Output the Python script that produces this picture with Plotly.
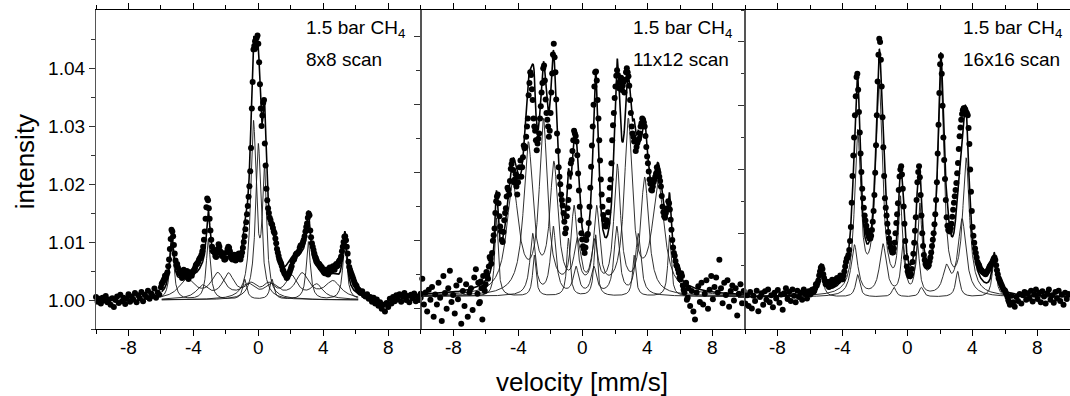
import numpy as np
import plotly.graph_objects as go

FONT = "Liberation Sans, Arial, sans-serif"
V_STEP = 0.1  # mm/s between plotted velocity channels

# ---------------- panel 1 : 8x8 scan ----------------
# channels of the first sweep (start p1_v_start, step V_STEP)
p1_v_start = -10.0
p1_int = [
    1.0005, 0.9997, 1.0002, 0.9994, 1.0004, 0.9999, 1.0007, 0.9996, 1.0001, 0.9992,
    1.0003, 0.9988, 1.0000, 1.0006, 0.9995, 1.0009, 0.9998, 1.0004, 0.9993, 1.0002,
    1.0010, 0.9997, 1.0006, 1.0001, 1.0012, 0.9996, 1.0008, 1.0003, 1.0014, 0.9998,
    1.0009, 1.0005, 1.0016, 1.0002, 1.0011, 1.0007, 1.0020, 1.0004, 1.0013, 1.0009,
    1.0022, 1.0030, 1.0036, 1.0040, 1.0048, 1.0070, 1.0105, 1.0118, 1.0095, 1.0068,
    1.0062, 1.0048, 1.0050, 1.0038, 1.0052, 1.0040, 1.0050, 1.0036, 1.0048, 1.0042,
    1.0050, 1.0055, 1.0062, 1.0066, 1.0072, 1.0078, 1.0092, 1.0118, 1.0160, 1.0172,
    1.0140, 1.0104, 1.0084, 1.0082, 1.0074, 1.0088, 1.0092, 1.0082, 1.0080, 1.0070,
    1.0072, 1.0088, 1.0090, 1.0076, 1.0070, 1.0078, 1.0068, 1.0074, 1.0080, 1.0070,
    1.0082, 1.0100, 1.0122, 1.0148, 1.0178, 1.0222, 1.0330, 1.0432, 1.0446, 1.0452,
    1.0442, 1.0372, 1.0300, 1.0340, 1.0270, 1.0192, 1.0158, 1.0142, 1.0132, 1.0124,
    1.0115, 1.0098, 1.0082, 1.0070, 1.0063, 1.0052, 1.0046, 1.0042, 1.0040, 1.0046,
    1.0054, 1.0066, 1.0070, 1.0078, 1.0080, 1.0084, 1.0094, 1.0096, 1.0104, 1.0118,
    1.0132, 1.0149, 1.0120, 1.0098, 1.0086, 1.0075, 1.0068, 1.0063, 1.0060, 1.0057,
    1.0052, 1.0046, 1.0050, 1.0044, 1.0056, 1.0050, 1.0058, 1.0052, 1.0062, 1.0060,
    1.0068, 1.0075, 1.0092, 1.0109, 1.0103, 1.0080, 1.0057, 1.0048, 1.0040, 1.0032,
    1.0026, 1.0020, 1.0017, 1.0012, 1.0015, 1.0008, 1.0006, 1.0010, 1.0002, 1.0005,
    0.9997, 1.0004, 0.9994, 1.0001, 0.9990, 0.9996, 0.9985, 0.9992, 0.9980, 0.9995,
    0.9988, 1.0002, 0.9994, 1.0005, 0.9998, 1.0008, 1.0001, 1.0010, 0.9997, 1.0006,
    1.0012, 1.0000, 1.0007, 0.9996, 1.0009, 1.0003, 1.0011, 0.9998, 1.0006, 1.0000,
    1.0004, 0.9995, 1.0007, 1.0002,
]
# channels of the second sweep, shifted by half a step
p1b_v_start = -5.95
p1b_int = [
    1.0028, 1.0033, 1.0042, 1.0044, 1.0058, 1.0088, 1.0121, 1.0110, 1.0080, 1.0060,
    1.0056, 1.0046, 1.0044, 1.0050, 1.0045, 1.0043, 1.0048, 1.0041, 1.0045, 1.0047,
    1.0052, 1.0060, 1.0063, 1.0070, 1.0074, 1.0084, 1.0104, 1.0140, 1.0175, 1.0158,
    1.0120, 1.0092, 1.0086, 1.0076, 1.0082, 1.0096, 1.0084, 1.0076, 1.0080, 1.0070,
    1.0082, 1.0092, 1.0084, 1.0072, 1.0076, 1.0070, 1.0078, 1.0072, 1.0078, 1.0076,
    1.0090, 1.0110, 1.0134, 1.0162, 1.0196, 1.0262, 1.0376, 1.0438, 1.0450, 1.0456,
    1.0410, 1.0330, 1.0318, 1.0345, 1.0232, 1.0172, 1.0150, 1.0138, 1.0130, 1.0118,
    1.0106, 1.0088, 1.0076, 1.0066, 1.0058, 1.0050, 1.0044, 1.0038, 1.0044, 1.0050,
    1.0058, 1.0070, 1.0074, 1.0080, 1.0082, 1.0090, 1.0094, 1.0100, 1.0110, 1.0126,
    1.0142, 1.0146, 1.0108, 1.0092, 1.0080, 1.0072, 1.0064, 1.0062, 1.0056, 1.0054,
    1.0048, 1.0052, 1.0046, 1.0054, 1.0050, 1.0056, 1.0054, 1.0060, 1.0058, 1.0066,
    1.0070, 1.0084, 1.0100, 1.0110, 1.0092, 1.0066, 1.0052, 1.0044, 1.0036, 1.0028,
    1.0024, 1.0018, 1.0014,
]
# fitted subspectra: line positions (mm/s), amplitudes, line widths FWHM (mm/s)
p1_fit_span = [-5.95, 6.15]
p1_sing_pos = [0.00]
p1_sing_amp = [0.027]
p1_sing_fwhm = [0.40]
p1_doub_pos = [-0.30, 0.38]
p1_doub_amp = [0.030, 0.021]
p1_doub_fwhm = [0.40, 0.30]
p1_fe_pos = [-5.33, -3.08, -0.84, 0.84, 3.08, 5.33]
p1_fe_amp = [0.0100, 0.0105, 0.0035, 0.0035, 0.0100, 0.0100]
p1_fe_fwhm = [0.30, 0.30, 0.30, 0.30, 0.30, 0.30]
p1_sa_pos = [-4.40, -2.50, -0.62, 0.82, 2.70, 4.60]
p1_sa_amp = [0.0034, 0.0042, 0.0022, 0.0022, 0.0042, 0.0030]
p1_sa_fwhm = [1.20, 1.00, 1.00, 1.00, 1.00, 1.20]
p1_sb_pos = [-3.45, -1.85, -0.45, 0.65, 2.05, 3.60]
p1_sb_amp = [0.0022, 0.0042, 0.0022, 0.0022, 0.0038, 0.0024]
p1_sb_fwhm = [0.90, 0.90, 0.90, 0.90, 0.90, 0.90]

# ---------------- panel 2 : 11x12 scan ----------------
p2_v_start = -11.2
p2_int = [
    1.0005, 0.9990, 1.0015, 1.0002, 1.0022, 0.9994, 1.0008, 0.9985, 1.0012, 1.0000,
    1.0018, 0.9992, 1.0004, 1.0026, 0.9988, 1.0006, 0.9978, 1.0010, 0.9995, 1.0014,
    0.9970, 1.0003, 0.9988, 1.0020, 0.9998, 0.9964, 1.0030, 1.0005, 0.9982, 1.0012,
    1.0038, 0.9992, 1.0002, 0.9975, 1.0016, 0.9996, 1.0024, 0.9960, 1.0008, 0.9986,
    1.0018, 0.9970, 1.0006, 1.0012, 0.9980, 1.0028, 1.0040, 1.0004, 0.9990, 1.0022,
    0.9966, 1.0014, 1.0018, 1.0030, 1.0044, 1.0055, 1.0064, 1.0090, 1.0123, 1.0147,
    1.0137, 1.0103, 1.0083, 1.0095, 1.0123, 1.0147, 1.0157, 1.0170, 1.0195, 1.0186,
    1.0172, 1.0162, 1.0168, 1.0190, 1.0176, 1.0205, 1.0218, 1.0235, 1.0262, 1.0314,
    1.0326, 1.0289, 1.0250, 1.0230, 1.0225, 1.0240, 1.0280, 1.0314, 1.0340, 1.0290,
    1.0260, 1.0235, 1.0270, 1.0328, 1.0372, 1.0330, 1.0240, 1.0190, 1.0165, 1.0142,
    1.0123, 1.0093, 1.0118, 1.0142, 1.0181, 1.0201, 1.0230, 1.0240, 1.0228, 1.0181,
    1.0132, 1.0093, 1.0074, 1.0064, 1.0083, 1.0092, 1.0132, 1.0191, 1.0250, 1.0309,
    1.0331, 1.0289, 1.0230, 1.0172, 1.0132, 1.0113, 1.0103, 1.0108, 1.0142, 1.0172,
    1.0230, 1.0270, 1.0309, 1.0333, 1.0314, 1.0318, 1.0304, 1.0316, 1.0319, 1.0336,
    1.0324, 1.0289, 1.0250, 1.0235, 1.0230, 1.0220, 1.0230, 1.0240, 1.0255, 1.0260,
    1.0250, 1.0220, 1.0196, 1.0172, 1.0157, 1.0162, 1.0172, 1.0181, 1.0186, 1.0176,
    1.0162, 1.0132, 1.0118, 1.0123, 1.0130, 1.0137, 1.0113, 1.0083, 1.0064, 1.0052,
    1.0044, 1.0035, 1.0025, 1.0030, 1.0010, 1.0018, 0.9995, 1.0012, 0.9986, 1.0008,
    0.9978, 0.9966, 1.0006, 1.0015, 0.9992, 1.0020, 0.9988, 1.0004, 1.0024, 0.9982,
    1.0010, 1.0030, 0.9996, 1.0014, 1.0028, 1.0006, 1.0054, 1.0012, 0.9990, 1.0020,
    1.0002, 1.0024, 0.9985, 1.0008, 1.0016, 0.9994, 1.0012, 0.9972, 1.0004, 1.0018,
    0.9990, 1.0008, 0.9998, 1.0014, 0.9994, 1.0010, 1.0003,
]
p2b_v_start = -6.45
p2b_int = [
    1.0020, 0.9992, 1.0012, 1.0030, 1.0008, 1.0036, 1.0026, 1.0058, 1.0048, 1.0082,
    1.0100, 1.0140, 1.0150, 1.0118, 1.0096, 1.0080, 1.0112, 1.0130, 1.0160, 1.0150,
    1.0188, 1.0200, 1.0168, 1.0180, 1.0150, 1.0176, 1.0200, 1.0190, 1.0222, 1.0220,
    1.0250, 1.0296, 1.0330, 1.0305, 1.0262, 1.0244, 1.0215, 1.0232, 1.0262, 1.0300,
    1.0336, 1.0318, 1.0270, 1.0250, 1.0244, 1.0300, 1.0356, 1.0352, 1.0290, 1.0214,
    1.0176, 1.0150, 1.0134, 1.0110, 1.0100, 1.0130, 1.0162, 1.0196, 1.0214, 1.0244,
    1.0236, 1.0208, 1.0156, 1.0112, 1.0084, 1.0070, 1.0072, 1.0090, 1.0108, 1.0160,
    1.0222, 1.0282, 1.0330, 1.0318, 1.0262, 1.0200, 1.0150, 1.0120, 1.0104, 1.0112,
    1.0124, 1.0160, 1.0196, 1.0252, 1.0292, 1.0325, 1.0326, 1.0306, 1.0322, 1.0310,
    1.0300, 1.0330, 1.0330, 1.0310, 1.0270, 1.0240, 1.0228, 1.0214, 1.0226, 1.0232,
    1.0250, 1.0262, 1.0256, 1.0236, 1.0206, 1.0184, 1.0166, 1.0156, 1.0168, 1.0176,
    1.0190, 1.0182, 1.0170, 1.0148, 1.0124, 1.0116, 1.0128, 1.0140, 1.0128, 1.0098,
    1.0072, 1.0060, 1.0046, 1.0040, 1.0028, 1.0034, 1.0016, 1.0006, 1.0020, 0.9998,
]
p2_n_pos = [-5.33, -3.00, -0.90, 0.78, 3.15, 5.33]
p2_n_amp = [0.0115, 0.0060, 0.0085, 0.0090, 0.0060, 0.0090]
p2_n_fwhm = [0.24, 0.24, 0.24, 0.24, 0.24, 0.24]
p2_a_pos = [-4.33, -2.44, -0.55, 0.84, 2.79, 4.64]
p2_a_amp = [0.016, 0.025, 0.012, 0.012, 0.025, 0.016]
p2_a_fwhm = [0.90, 0.60, 0.44, 0.44, 0.60, 0.90]
p2_b_pos = [-3.37, -1.79, -0.35, 0.72, 2.11, 3.80]
p2_b_amp = [0.022, 0.0185, 0.007, 0.007, 0.0185, 0.017]
p2_b_fwhm = [0.70, 0.60, 0.50, 0.50, 0.50, 0.60]
p2_c_pos = [-3.10, -1.83, -0.43, 0.67, 2.08, 3.40]
p2_c_amp = [0.009, 0.010, 0.004, 0.004, 0.010, 0.009]
p2_c_fwhm = [0.40, 0.40, 0.40, 0.40, 0.40, 0.40]

# ---------------- panel 3 : 16x16 scan ----------------
p3_v_start = -11.6
p3_int = [
    1.0055, 1.0030, 1.0012, 0.9995, 1.0020, 0.9982, 1.0008, 0.9972, 1.0002, 0.9988,
    0.9965, 1.0006, 0.9980, 0.9992, 0.9970, 1.0004, 0.9990, 1.0003, 0.9986, 1.0008,
    0.9982, 1.0002, 0.9994, 1.0010, 0.9978, 1.0000, 1.0006, 0.9988, 1.0009, 0.9996,
    1.0012, 0.9992, 1.0003, 0.9984, 1.0007, 0.9998, 1.0011, 0.9991, 1.0004, 0.9980,
    1.0006, 1.0014, 0.9997, 1.0008, 0.9994, 1.0012, 1.0002, 0.9992, 1.0010, 1.0000,
    1.0007, 0.9996, 1.0012, 1.0005, 0.9998, 1.0009, 1.0004, 1.0011, 1.0008, 1.0014,
    1.0018, 1.0026, 1.0040, 1.0048, 1.0036, 1.0025, 1.0022, 1.0018, 1.0024, 1.0020,
    1.0026, 1.0022, 1.0028, 1.0025, 1.0030, 1.0032, 1.0028, 1.0040, 1.0055, 1.0062,
    1.0074, 1.0110, 1.0190, 1.0250, 1.0315, 1.0350, 1.0290, 1.0225, 1.0170, 1.0140,
    1.0120, 1.0105, 1.0095, 1.0092, 1.0105, 1.0135, 1.0195, 1.0285, 1.0380, 1.0400,
    1.0330, 1.0235, 1.0155, 1.0128, 1.0102, 1.0085, 1.0074, 1.0070, 1.0085, 1.0116,
    1.0147, 1.0189, 1.0205, 1.0170, 1.0115, 1.0062, 1.0040, 1.0033, 1.0036, 1.0055,
    1.0085, 1.0125, 1.0180, 1.0205, 1.0160, 1.0100, 1.0066, 1.0052, 1.0048, 1.0050,
    1.0062, 1.0080, 1.0100, 1.0130, 1.0180, 1.0270, 1.0365, 1.0350, 1.0250, 1.0185,
    1.0125, 1.0105, 1.0103, 1.0115, 1.0137, 1.0158, 1.0179, 1.0210, 1.0252, 1.0278,
    1.0293, 1.0296, 1.0290, 1.0285, 1.0240, 1.0165, 1.0110, 1.0085, 1.0069, 1.0055,
    1.0050, 1.0043, 1.0040, 1.0038, 1.0036, 1.0040, 1.0045, 1.0050, 1.0054, 1.0060,
    1.0058, 1.0042, 1.0030, 1.0024, 1.0018, 1.0012, 1.0010, 1.0004, 0.9995, 0.9988,
    1.0002, 0.9992, 0.9985, 1.0000, 0.9994, 1.0005, 0.9990, 1.0003, 1.0008, 0.9996,
    1.0006, 0.9998, 1.0010, 0.9993, 1.0004, 1.0012, 0.9997, 1.0007, 0.9992, 1.0009,
    1.0001, 0.9990, 1.0006, 1.0012, 0.9996, 1.0003, 0.9991, 1.0008, 0.9998, 1.0010,
    0.9994, 1.0004, 0.9988, 1.0007, 0.9997, 1.0005, 1.0000,
]
p3b_v_start = -5.95
p3b_int = [
    1.0006, 1.0012, 1.0010, 1.0020, 1.0022, 1.0034, 1.0046, 1.0044, 1.0030, 1.0020,
    1.0024, 1.0016, 1.0022, 1.0027, 1.0020, 1.0026, 1.0030, 1.0026, 1.0034, 1.0028,
    1.0034, 1.0048, 1.0060, 1.0066, 1.0088, 1.0148, 1.0222, 1.0285, 1.0345, 1.0325,
    1.0258, 1.0196, 1.0155, 1.0128, 1.0112, 1.0100, 1.0092, 1.0096, 1.0118, 1.0160,
    1.0238, 1.0338, 1.0405, 1.0372, 1.0282, 1.0190, 1.0140, 1.0115, 1.0092, 1.0078,
    1.0070, 1.0076, 1.0100, 1.0130, 1.0168, 1.0200, 1.0192, 1.0142, 1.0088, 1.0048,
    1.0036, 1.0033, 1.0044, 1.0068, 1.0104, 1.0152, 1.0196, 1.0188, 1.0128, 1.0080,
    1.0058, 1.0049, 1.0048, 1.0056, 1.0070, 1.0090, 1.0114, 1.0152, 1.0225, 1.0320,
    1.0378, 1.0300, 1.0215, 1.0152, 1.0112, 1.0104, 1.0108, 1.0126, 1.0148, 1.0168,
    1.0194, 1.0232, 1.0266, 1.0287, 1.0296, 1.0294, 1.0288, 1.0265, 1.0200, 1.0135,
    1.0096, 1.0076, 1.0062, 1.0052, 1.0046, 1.0042, 1.0039, 1.0037, 1.0038, 1.0042,
    1.0048, 1.0052, 1.0057, 1.0062, 1.0050, 1.0036, 1.0027, 1.0021, 1.0015, 1.0011,
    1.0007, 1.0000, 0.9992,
]
p3_m1_pos = [-3.08, -1.76, -0.45, 0.75, 2.04, 3.60]
p3_m1_amp = [0.025, 0.033, 0.014, 0.013, 0.035, 0.021]
p3_m1_fwhm = [0.44, 0.50, 0.30, 0.30, 0.44, 0.50]
p3_m2_pos = [-3.28, -1.52, -0.28, 0.60, 2.38, 3.35]
p3_m2_amp = [0.008, 0.008, 0.008, 0.008, 0.004, 0.012]
p3_m2_fwhm = [0.50, 0.50, 0.30, 0.30, 0.50, 0.60]
p3_fe_pos = [-5.33, -3.08, -0.84, 0.84, 3.08, 5.33]
p3_fe_amp = [0.0045, 0.0035, 0.0015, 0.0015, 0.0040, 0.0060]
p3_fe_fwhm = [0.30, 0.30, 0.30, 0.30, 0.30, 0.30]

# ---------------- axis ticks and labels ----------------
x_tick_vals = [-8, -4, 0, 4, 8]
x_tick_text = ["-8", "-4", "0", "4", "8"]
x_minor_vals = [-10, -6, -2, 2, 6, 10]
y1_tick_vals = [1.00, 1.01, 1.02, 1.03, 1.04]
y1_tick_text = ["1.00", "1.01", "1.02", "1.03", "1.04"]
y1_minor_vals = [0.995, 1.005, 1.015, 1.025, 1.035, 1.045]
y2_tick_vals = [0.99829, 1.00829, 1.01829, 1.02829, 1.03829]
y2_minor_vals = [1.00329, 1.01329, 1.02329, 1.03329]
y3_tick_vals = [1.00, 1.01, 1.02, 1.03, 1.04]
y3_minor_vals = [0.995, 1.005, 1.015, 1.025, 1.035, 1.045]

panel_title = "1.5 bar CH<sub>4</sub>"
panel_scans = ["8x8 scan", "11x12 scan", "16x16 scan"]


def lorentz_sum(v, pos, amp, fwhm):
    out = np.zeros_like(v)
    for c, a, w in zip(pos, amp, fwhm):
        out += a / (1.0 + ((v - c) / (w / 2.0)) ** 2)
    return out


def channels(start, values):
    return start + V_STEP * np.arange(len(values))


panels = [
    dict(sweeps=[(p1_v_start, p1_int), (p1b_v_start, p1b_int)],
         yrange=[0.995, 1.05], span=p1_fit_span,
         ytv=y1_tick_vals, ytt=y1_tick_text, ymv=y1_minor_vals,
         sub=[(p1_sa_pos, p1_sa_amp, p1_sa_fwhm), (p1_sb_pos, p1_sb_amp, p1_sb_fwhm),
              (p1_fe_pos, p1_fe_amp, p1_fe_fwhm), (p1_doub_pos, p1_doub_amp, p1_doub_fwhm),
              (p1_sing_pos, p1_sing_amp, p1_sing_fwhm)]),
    dict(sweeps=[(p2_v_start, p2_int), (p2b_v_start, p2b_int)],
         yrange=[0.99521, 1.04216], span=[-10.0, 10.0],
         ytv=y2_tick_vals, ytt=None, ymv=y2_minor_vals,
         sub=[(p2_n_pos, p2_n_amp, p2_n_fwhm), (p2_a_pos, p2_a_amp, p2_a_fwhm),
              (p2_b_pos, p2_b_amp, p2_b_fwhm), (p2_c_pos, p2_c_amp, p2_c_fwhm)]),
    dict(sweeps=[(p3_v_start, p3_int), (p3b_v_start, p3b_int)],
         yrange=[0.995, 1.045], span=[-10.0, 10.0],
         ytv=y3_tick_vals, ytt=None, ymv=y3_minor_vals,
         sub=[(p3_fe_pos, p3_fe_amp, p3_fe_fwhm), (p3_m2_pos, p3_m2_amp, p3_m2_fwhm),
              (p3_m1_pos, p3_m1_amp, p3_m1_fwhm)]),
]

fig = go.Figure()
layout = dict(
    width=1070, height=396, margin=dict(l=96, r=0, t=10, b=67),
    paper_bgcolor="white", plot_bgcolor="white", showlegend=False,
    font=dict(family=FONT, color="black"), hovermode=False,
)
annotations = []

for i, p in enumerate(panels):
    sfx = "" if i == 0 else str(i + 1)
    xa, ya = "x" + sfx, "y" + sfx
    vf = np.linspace(p["span"][0], p["span"][1], 2001)
    total = np.zeros_like(vf)
    for pos, amp, fwhm in p["sub"]:
        part = lorentz_sum(vf, pos, amp, fwhm)
        total += part
        fig.add_trace(go.Scatter(x=vf, y=1.0 + part, mode="lines",
                                 line=dict(color="#1a1a1a", width=0.9),
                                 xaxis=xa, yaxis=ya))
    vx = np.concatenate([channels(s, vals) for s, vals in p["sweeps"]])
    vy = np.concatenate([np.asarray(vals) for s, vals in p["sweeps"]])
    fig.add_trace(go.Scatter(x=vx, y=vy, mode="markers",
                             marker=dict(size=6, color="black", line=dict(width=0)),
                             cliponaxis=False, xaxis=xa, yaxis=ya))
    fig.add_trace(go.Scatter(x=vf, y=1.0 + total, mode="lines",
                             line=dict(color="black", width=1.6),
                             xaxis=xa, yaxis=ya))

    layout["xaxis" + sfx] = dict(
        domain=[i / 3, (i + 1) / 3], anchor=ya, range=[-10, 10],
        tickmode="array", tickvals=x_tick_vals, showticklabels=False,
        ticks="outside", ticklen=6, tickwidth=1, tickcolor="black",
        minor=dict(tickmode="array", tickvals=x_minor_vals, ticks="outside",
                   ticklen=4, tickwidth=1, tickcolor="black"),
        showline=True, linecolor="black", linewidth=1, mirror="ticks",
        showgrid=False, zeroline=False,
    )
    # bottom tick labels
    for tv, tt in zip(x_tick_vals, x_tick_text):
        annotations.append(dict(text=tt, xref=xa, yref="paper", x=tv, y=-0.058,
                                xanchor="center", yanchor="middle", showarrow=False,
                                font=dict(family=FONT, size=19, color="black")))
    yax = dict(
        domain=[0, 1], anchor=xa, range=p["yrange"],
        tickmode="array", tickvals=p["ytv"],
        ticks="outside", ticklen=6, tickwidth=1, tickcolor="#333",
        minor=dict(tickmode="array", tickvals=p["ymv"], ticks="outside",
                   ticklen=3.5, tickwidth=1, tickcolor="#333"),
        showline=True, linecolor="#555", linewidth=1.3, mirror=True,
        showgrid=False, zeroline=False,
        tickfont=dict(family=FONT, size=19, color="black"),
    )
    if p["ytt"] is not None:
        yax["ticktext"] = p["ytt"]
    else:
        yax["showticklabels"] = False
    layout["yaxis" + sfx] = yax

label_x = [0.640, 0.649, 0.665]
for i in range(3):
    sfx = "" if i == 0 else str(i + 1)
    annotations.append(dict(text=panel_title, xref="x" + sfx + " domain", yref="paper",
                            x=label_x[i], y=0.9405, xanchor="left", yanchor="middle",
                            showarrow=False, font=dict(family=FONT, size=19, color="black")))
    annotations.append(dict(text=panel_scans[i], xref="x" + sfx + " domain", yref="paper",
                            x=label_x[i], y=0.844, xanchor="left", yanchor="middle",
                            showarrow=False, font=dict(family=FONT, size=19, color="black")))
annotations.append(dict(text="intensity", xref="paper", yref="paper", x=-0.073, y=0.5255,
                        xanchor="center", yanchor="middle", textangle=-90, showarrow=False,
                        font=dict(family=FONT, size=26, color="black")))
annotations.append(dict(text="velocity [mm/s]", xref="paper", yref="paper", x=0.499, y=-0.166,
                        xanchor="center", yanchor="middle", showarrow=False,
                        font=dict(family=FONT, size=26, color="black")))
layout["annotations"] = annotations

fig.update_layout(**layout)
fig.write_html("out.html")
